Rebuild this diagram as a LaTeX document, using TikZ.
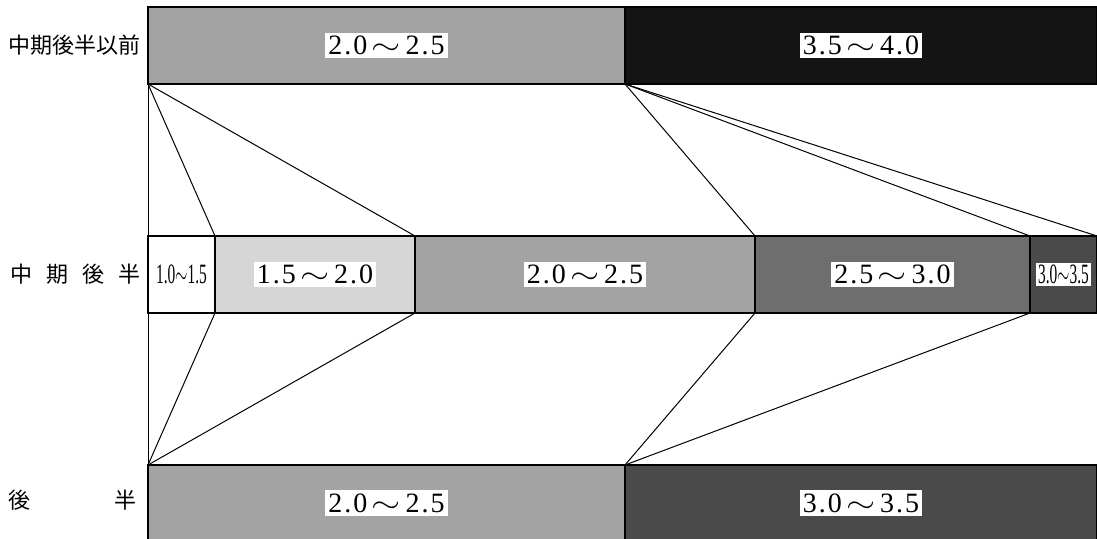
\documentclass[tikz,border=0pt]{standalone}
\usepackage{fontspec}
\setmainfont{Liberation Serif}
\newfontfamily\jpfont{Noto Sans CJK JP}
\usetikzlibrary{positioning}
\definecolor{shadeA}{gray}{0.84}
\definecolor{shadeB}{gray}{0.64}
\definecolor{shadeC}{gray}{0.43}
\definecolor{shadeD}{gray}{0.29}
\definecolor{shadeE}{gray}{0.08}
\newcommand{\rng}[2]{{\addfontfeature{LetterSpace=7}#1}\,\scalebox{1.3}[1]{$\sim$}\,{\addfontfeature{LetterSpace=7}#2}}
\newcommand{\slimrng}[2]{\scalebox{0.55}[1]{#1$\sim$#2}}
\tikzset{
  band/.style={draw=black, line width=0.6pt, inner sep=0pt, outer sep=0pt,
    minimum height=38.5pt},
  tag/.style={fill=white, inner sep=1.6pt, font=\fontsize{14}{14}\selectfont},
  rowname/.style={anchor=west, inner sep=0pt, font=\jpfont\fontsize{11}{11}\selectfont},
  link/.style={draw=black, line width=0.5pt},
}
\begin{document}
\begin{tikzpicture}
\useasboundingbox[fill=white] (0,0) rectangle (548.5pt,-269.5pt);

% ---- top row ---------------------------------------------------------
\node[band, fill=shadeB, minimum width=238.5pt, anchor=north west] (topL) at (74pt,-3.5pt) {};
\node[band, fill=shadeE, minimum width=236pt, right=0pt of topL] (topR) {};
\node[tag] (topLtag) at (topL.center) {\rng{2.0}{2.5}};
\node[tag] (topRtag) at (topR.center) {\rng{3.5}{4.0}};

% ---- middle row ------------------------------------------------------
\node[band, fill=white, minimum width=33.5pt, anchor=north west] (midA) at (74pt,-118pt) {};
\node[band, fill=shadeA, minimum width=100pt, right=0pt of midA] (midB) {};
\node[band, fill=shadeB, minimum width=170pt, right=0pt of midB] (midC) {};
\node[band, fill=shadeC, minimum width=137.5pt, right=0pt of midC] (midD) {};
\node[band, fill=shadeD, minimum width=33.5pt, right=0pt of midD] (midE) {};
\node[tag, fill=none] (midAtag) at (midA.center) {\slimrng{1.0}{1.5}};
\node[tag] (midBtag) at (midB.center) {\rng{1.5}{2.0}};
\node[tag] (midCtag) at (midC.center) {\rng{2.0}{2.5}};
\node[tag] (midDtag) at (midD.center) {\rng{2.5}{3.0}};
\node[tag, inner sep=1pt] (midEtag) at (midE.center) {\slimrng{3.0}{3.5}};

% ---- bottom row ------------------------------------------------------
\node[band, fill=shadeB, minimum width=238.5pt, minimum height=40pt, anchor=north west] (botL) at (74pt,-232.5pt) {};
\node[band, fill=shadeD, minimum width=236pt, minimum height=40pt, right=0pt of botL] (botR) {};
\node[tag] (botLtag) at ([yshift=1pt]botL.center) {\rng{2.0}{2.5}};
\node[tag] (botRtag) at ([yshift=1pt]botR.center) {\rng{3.0}{3.5}};

% ---- row names -------------------------------------------------------
\node[rowname] (nameTop) at (4pt,-22.75pt) {中期後半以前};
\node[rowname] (nameMid) at (5pt,-137.25pt) {中\hspace{7pt}期\hspace{7pt}後\hspace{7pt}半};
\node[rowname] (nameBot) at (4pt,-250pt) {後\hspace{42pt}半};

% ---- frame and links -------------------------------------------------
\draw[link] (topL.south west) -- (botL.north west);
\draw[link] (topR.south east) -- (botR.north east);
\draw[link] (topL.south west) -- (midB.north west);
\draw[link] (topL.south west) -- (midB.north east);
\draw[link] (topL.south east) -- (midD.north west);
\draw[link] (topL.south east) -- (midE.north west);
\draw[link] (topL.south east) -- (midE.north east);
\draw[link] (botL.north west) -- (midB.south west);
\draw[link] (botL.north west) -- (midB.south east);
\draw[link] (botL.north east) -- (midD.south west);
\draw[link] (botL.north east) -- (midE.south west);

\end{tikzpicture}
\end{document}
